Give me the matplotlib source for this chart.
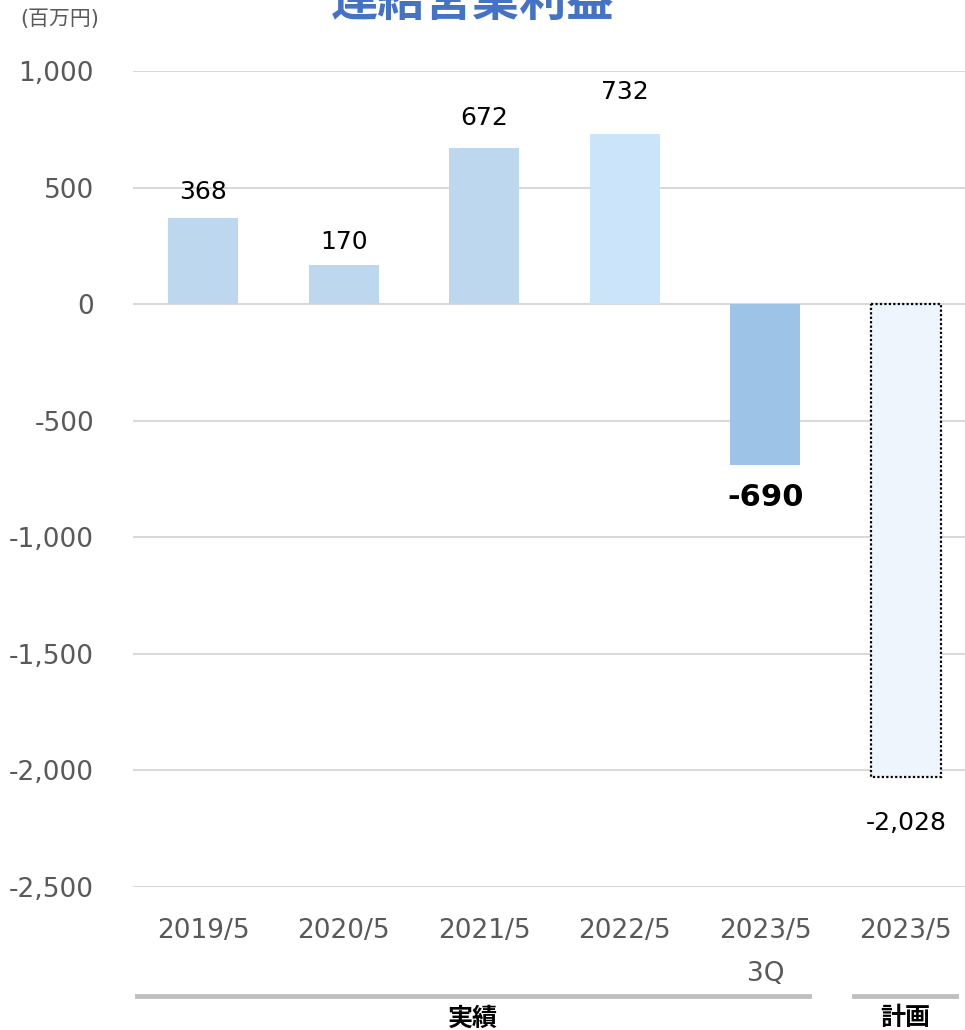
import matplotlib.pyplot as plt
from matplotlib.lines import Line2D

plt.rcParams['font.family'] = ['DejaVu Sans', 'Noto Sans CJK JP']

# Data
categories = ['2019/5', '2020/5', '2021/5', '2022/5', '2023/5\n3Q', '2023/5']
values = [368, 170, 672, 732, -690, -2028]
bar_colors = ['#BDD7EE', '#BDD7EE', '#BDD7EE', '#CCE4F9', '#9DC3E6', '#EEF5FC']
yticks = [1000, 500, 0, -500, -1000, -1500, -2000, -2500]

# label offsets (points) from the bar end
label_offsets = [19, 16, 21, 30, -23, -33]

fig = plt.figure(figsize=(9.65, 10.3), dpi=100)
ax = fig.add_axes([0.1378, 0.1388, 0.862, 0.7922])

x = list(range(len(categories)))
bars = ax.bar(x, values, width=0.5, color=bar_colors, zorder=2)

# the plan bar has a dotted outline
plan = bars[-1]
plan.set_edgecolor('black')
plan.set_linestyle((0, (1, 1)))
plan.set_linewidth(1.6)

ax.set_ylim(-2500, 1000)
ax.set_xlim(-0.5, 5.42)
ax.set_yticks(yticks)
ax.set_yticklabels([f'{v:,}' for v in yticks])
ax.yaxis.grid(True, color='#D9D9D9', linewidth=1.5, zorder=0)
ax.set_axisbelow(True)
for s in ax.spines.values():
    s.set_visible(False)
ax.tick_params(axis='both', length=0, labelsize=19, labelcolor='#595959')
ax.tick_params(axis='x', pad=22)
ax.tick_params(axis='y', pad=28)
ax.set_xticks(x)
ax.set_xticklabels(categories)
for lbl in ax.get_xticklabels():
    lbl.set_linespacing(1.85)

# value labels
for i, v in enumerate(values):
    if i == 4:
        ax.annotate(f'{v:,}', (i, v), xytext=(0, label_offsets[i]), textcoords='offset points',
                    ha='center', va='center', fontsize=22, fontweight='bold', color='black')
    else:
        ax.annotate(f'{v:,}', (i, v), xytext=(0, label_offsets[i]), textcoords='offset points',
                    ha='center', va='center', fontsize=18, color='black')

# group brackets below the axis
groups = [('実績', -0.47, 4.31), ('計画', 4.63, 5.36)]
tr = ax.get_xaxis_transform()
for name, x0, x1 in groups:
    ax.add_line(Line2D([x0, x1], [-0.134, -0.134], transform=tr, color='#BFBFBF',
                       linewidth=3.5, clip_on=False))
    ax.text((x0 + x1) / 2, -0.161, name, transform=tr, ha='center', va='center',
            fontsize=18, fontweight='bold', color='black')

fig.text(0.49, 1 - 16 / 1030, '連結営業利益', ha='center', va='baseline',
         fontsize=34, fontweight='bold', color='#4472C4')
fig.text(0.062, 1 - 19 / 1030, '(百万円)', ha='center', va='center',
         fontsize=15, color='#595959')

fig.savefig('out.png', dpi=100)
